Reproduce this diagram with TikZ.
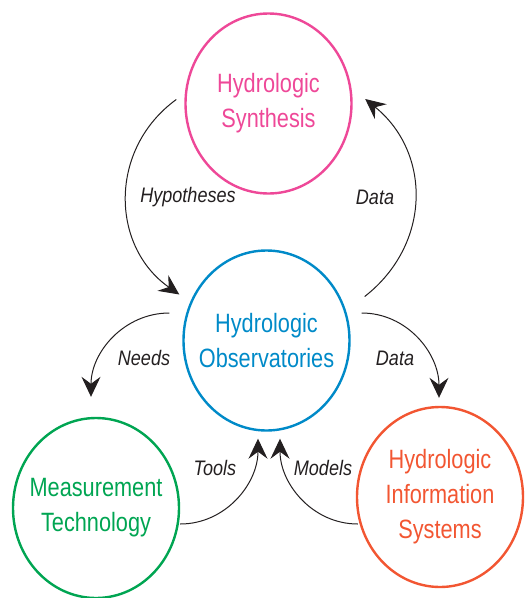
\documentclass[tikz,border=0pt]{standalone}
\usepackage{fontspec}
\setmainfont{Liberation Sans}
\newfontfamily\hubfont[FakeStretch=0.82]{Liberation Sans}
\newfontfamily\tagfont[FakeStretch=0.86]{Liberation Sans}
\usepackage{tikz}
\usetikzlibrary{arrows.meta,shapes.geometric}

\definecolor{synpink}{RGB}{238,72,152}
\definecolor{obsblue}{RGB}{0,138,200}
\definecolor{techgreen}{RGB}{0,165,82}
\definecolor{infored}{RGB}{242,86,50}
\definecolor{arrowgray}{RGB}{35,31,32}

\begin{document}
\begin{tikzpicture}[x=1pt,y=1pt,>={Stealth[length=20pt,width=19pt,inset=7pt]}]
  \tikzstyle{hub}=[ellipse,line width=2.4pt,minimum width=166pt,minimum height=180pt,
                   inner sep=-50pt,align=center,font=\hubfont\fontsize{26.5}{35}\selectfont]
  \tikzstyle{tag}=[inner sep=0pt,text=arrowgray,font=\tagfont\itshape\fontsize{21}{25}\selectfont]

  \useasboundingbox (0,0) rectangle (529,-598);

  \node[hub,draw=synpink,text=synpink]     (syn)  at (268.5,-103.5) {Hydrologic\\Synthesis};
  \node[hub,draw=obsblue,text=obsblue]     (obs)  at (266.5,-340.5) {Hydrologic\\Observatories};
  \node[hub,draw=techgreen,text=techgreen] (tech) at (96,-508)      {Measurement\\Technology};
  \node[hub,draw=infored,text=infored]     (info) at (440,-497)     {Hydrologic\\Information\\Systems};

  \node[tag] (hyp)    at (188,-197) {Hypotheses};
  \node[tag] (data)   at (375,-197) {Data};   % back to synthesis
  \node[tag] (needs)  at (144,-358) {Needs};
  \node[tag] (output) at (395,-358) {Data};   % out to information systems
  \node[tag] (tools)  at (215,-468) {Tools};
  \node[tag] (models) at (323,-468) {Models};

  \path[->,arrowgray,line width=1pt]
    ([shift={(-8,4)}]syn.west)   edge [out=216,in=145,looseness=1.1] ([shift={(-3,46)}]obs.west)
    ([shift={(14,44)}]obs.east)  edge [out=38,in=-39,looseness=1.1]  ([shift={(12.5,4.5)}]syn.east)
    ([shift={(-13,27.5)}]obs.west) edge [out=180,in=90]              ([shift={(-5,20)}]tech.north)
    ([shift={(11,27.5)}]obs.east)  edge [out=0,in=90]                ([shift={(-1,8)}]info.north)
    ([shift={(0,-16)}]tech.east)   edge [out=0,in=-90]               ([shift={(-8.5,-7)}]obs.south)
    ([shift={(2,-27)}]info.west)   edge [out=180,in=-90]             ([shift={(13.5,-7)}]obs.south);
\end{tikzpicture}
\end{document}
